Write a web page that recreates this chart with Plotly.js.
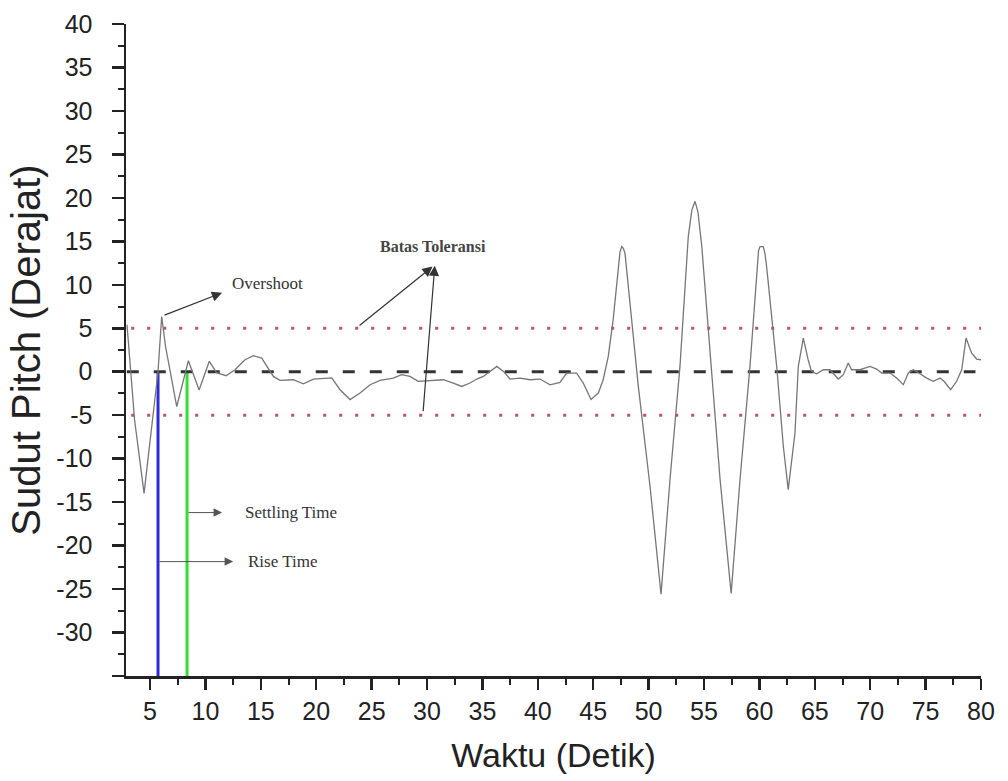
<!DOCTYPE html>
<html>
<head>
<meta charset="utf-8">
<script src="https://cdn.plot.ly/plotly-3.0.1.min.js"></script>
<style>html,body{margin:0;padding:0;background:#fff;}#chart{width:1008px;height:781px;}</style>
</head>
<body>
<div id="chart"></div>
<script>
// Time (s) and pitch angle (deg)
const waktu = [2.92, 3.6, 4.46, 5.2, 5.72, 6.05, 6.4, 7.41, 8.46, 9.43, 10.35, 11.0, 11.86, 12.67, 13.57, 14.33, 15.08, 16.13, 16.73, 17.93, 18.84, 19.74, 20.64, 21.4, 22.15, 23.05, 23.95, 24.86, 25.76, 26.96, 27.7, 28.46, 29.2, 30.27, 31.47, 32.37, 33.13, 33.88, 34.49, 35.08, 35.69, 36.3, 36.9, 37.49, 38.39, 39.3, 40.2, 41.1, 42.0, 42.6, 43.5, 44.1, 44.8, 45.46, 45.9, 46.36, 46.8, 47.1, 47.27, 47.42, 47.57, 47.72, 47.87, 48.1, 48.32, 49.07, 50.13, 51.12, 51.93, 52.83, 53.58, 53.9, 54.19, 54.45, 54.8, 55.39, 56.45, 57.45, 58.25, 59.15, 59.76, 59.92, 60.05, 60.35, 60.5, 60.65, 61.56, 62.16, 62.6, 63.21, 63.51, 63.96, 64.4, 64.7, 65.16, 65.77, 66.37, 67.12, 67.57, 68.02, 68.32, 69.08, 69.98, 70.58, 71.03, 71.79, 72.39, 72.99, 73.44, 73.89, 74.5, 75.1, 75.69, 76.3, 76.66, 77.26, 77.8, 78.26, 78.65, 79.15, 79.6, 80.0];
const sudutPitch = [5.4, -5.5, -14.0, -6.0, 0.0, 6.35, 2.9, -4.0, 1.26, -2.1, 1.2, -0.1, -0.46, 0.23, 1.38, 1.84, 1.57, -0.54, -1.0, -0.92, -1.38, -0.84, -0.8, -0.7, -2.07, -3.2, -2.45, -1.49, -1.0, -0.73, -0.34, -0.54, -1.1, -1.0, -0.92, -1.3, -1.69, -1.3, -0.84, -0.54, 0.04, 0.61, 0.04, -0.84, -0.73, -0.92, -0.84, -1.5, -1.23, -0.15, -0.15, -1.3, -3.2, -2.45, -0.92, 1.76, 6.0, 10.0, 12.1, 13.8, 14.4, 14.2, 13.6, 10.8, 7.5, -1.69, -13.2, -25.6, -12.4, 0.61, 15.55, 18.6, 19.6, 18.4, 14.4, 4.8, -12.4, -25.5, -12.4, 0.61, 12.1, 13.9, 14.4, 14.4, 13.6, 12.1, 0.61, -8.6, -13.56, -7.05, 0.61, 3.87, 1.38, 0.04, -0.23, 0.23, 0.23, -0.84, -0.34, 1.0, 0.23, 0.23, 0.61, 0.31, -0.15, -0.15, -0.73, -1.49, -0.15, 0.23, -0.23, -0.73, -1.1, -0.73, -1.1, -2.07, -1.1, 0.23, 3.87, 2.15, 1.46, 1.38];

// Reference lines
const setpointX = [2.9, 79.5];
const setpointY = [0, 0];
const tolX = [3.3, 80];
const tolUpper = [5, 5];
const tolLower = [-5, -5];
const riseTime = 5.72;
const settlingTime = 8.34;
const vLineY = [0, -35];

const xTickVals = [5, 10, 15, 20, 25, 30, 35, 40, 45, 50, 55, 60, 65, 70, 75, 80];
const xTickText = ['5', '10', '15', '20', '25', '30', '35', '40', '45', '50', '55', '60', '65', '70', '75', '80'];
const yTickVals = [-35, -30, -25, -20, -15, -10, -5, 0, 5, 10, 15, 20, 25, 30, 35, 40];
const yTickText = ['', '-30', '-25', '-20', '-15', '-10', '-5', '0', '5', '10', '15', '20', '25', '30', '35', '40'];

const traces = [
  {x: tolX, y: tolUpper, mode: 'lines', line: {color: '#c8505e', width: 3, dash: '3px,13px'}, hoverinfo: 'skip'},
  {x: tolX, y: tolLower, mode: 'lines', line: {color: '#c8505e', width: 3, dash: '3px,13px'}, hoverinfo: 'skip'},
  {x: [riseTime, riseTime], y: vLineY, mode: 'lines', line: {color: '#2b2bd8', width: 3}, hoverinfo: 'skip'},
  {x: [settlingTime, settlingTime], y: vLineY, mode: 'lines', line: {color: '#33dd33', width: 3}, hoverinfo: 'skip'},
  {x: setpointX, y: setpointY, mode: 'lines', line: {color: '#333333', width: 3, dash: '12px,15px'}, hoverinfo: 'skip'},
  {x: waktu, y: sudutPitch, mode: 'lines', line: {color: '#767676', width: 1.3}, name: 'Sudut Pitch'}
];

const serif = 'Liberation Serif, Times New Roman, serif';
const arrowCommon = {xref: 'x', yref: 'y', axref: 'x', ayref: 'y', text: '', showarrow: true,
  arrowhead: 2, arrowsize: 1.7, arrowwidth: 1.2, arrowcolor: '#333', standoff: 0, startstandoff: 0};
const annotations = [
  Object.assign({}, arrowCommon, {ax: 6.17, ay: 6.44, x: 11.5, y: 9.08}),
  {xref: 'x', yref: 'y', x: 12.2, y: 10.1, text: 'Overshoot', showarrow: false, xanchor: 'left', yanchor: 'middle', font: {family: serif, size: 17, color: '#333'}},
  Object.assign({}, arrowCommon, {ax: 23.77, ay: 5.17, x: 30.5, y: 12.1}),
  Object.assign({}, arrowCommon, {ax: 29.64, ay: -4.7, x: 30.7, y: 12.2}),
  {xref: 'x', yref: 'y', x: 30.5, y: 14.4, text: '<b>Batas Toleransi</b>', showarrow: false, xanchor: 'center', yanchor: 'middle', font: {family: serif, size: 16, color: '#444'}},
  Object.assign({}, arrowCommon, {ax: settlingTime, ay: -16.2, x: 11.5, y: -16.2, arrowcolor: '#555', arrowwidth: 1}),
  {xref: 'x', yref: 'y', x: 13.4, y: -16.2, text: 'Settling Time', showarrow: false, xanchor: 'left', yanchor: 'middle', font: {family: serif, size: 17, color: '#333'}},
  Object.assign({}, arrowCommon, {ax: riseTime, ay: -21.84, x: 12.5, y: -21.84, arrowcolor: '#555', arrowwidth: 1}),
  {xref: 'x', yref: 'y', x: 13.66, y: -21.84, text: 'Rise Time', showarrow: false, xanchor: 'left', yanchor: 'middle', font: {family: serif, size: 17, color: '#333'}}
];

const axisFont = {family: 'Liberation Sans, Arial, sans-serif', size: 25, color: '#222'};
const layout = {
  width: 1008, height: 781,
  margin: {l: 126, r: 27, t: 24, b: 105},
  paper_bgcolor: '#ffffff', plot_bgcolor: '#ffffff',
  showlegend: false,
  xaxis: {
    range: [2.83, 80], showgrid: false, zeroline: false,
    showline: true, linecolor: '#222', linewidth: 2.5,
    tickmode: 'array', tickvals: xTickVals, ticktext: xTickText,
    ticks: 'outside', ticklen: 11, tickwidth: 2.5, tickcolor: '#222',
    ticklabelstandoff: 0,
    minor: {ticks: 'outside', dtick: 2.5, tick0: 0, ticklen: 6, tickwidth: 2, tickcolor: '#222'},
    tickfont: axisFont,
    title: {text: 'Waktu (Detik)', font: {family: 'Liberation Sans, Arial, sans-serif', size: 34, color: '#222'}, standoff: 20}
  },
  yaxis: {
    range: [-35, 40], showgrid: false, zeroline: false,
    showline: true, linecolor: '#222', linewidth: 2.5,
    tickmode: 'array', tickvals: yTickVals, ticktext: yTickText,
    ticks: 'outside', ticklen: 12, tickwidth: 2.5, tickcolor: '#222',
    ticklabelstandoff: 14,
    minor: {ticks: 'outside', dtick: 2.5, tick0: 0, ticklen: 6, tickwidth: 2, tickcolor: '#222'},
    tickfont: axisFont,
    title: {text: 'Sudut Pitch (Derajat)', font: {family: 'Liberation Sans, Arial, sans-serif', size: 40, color: '#222'}, standoff: 4}
  },
  annotations: annotations
};

Plotly.newPlot('chart', traces, layout, {displayModeBar: false, staticPlot: true});
</script>
</body>
</html>
